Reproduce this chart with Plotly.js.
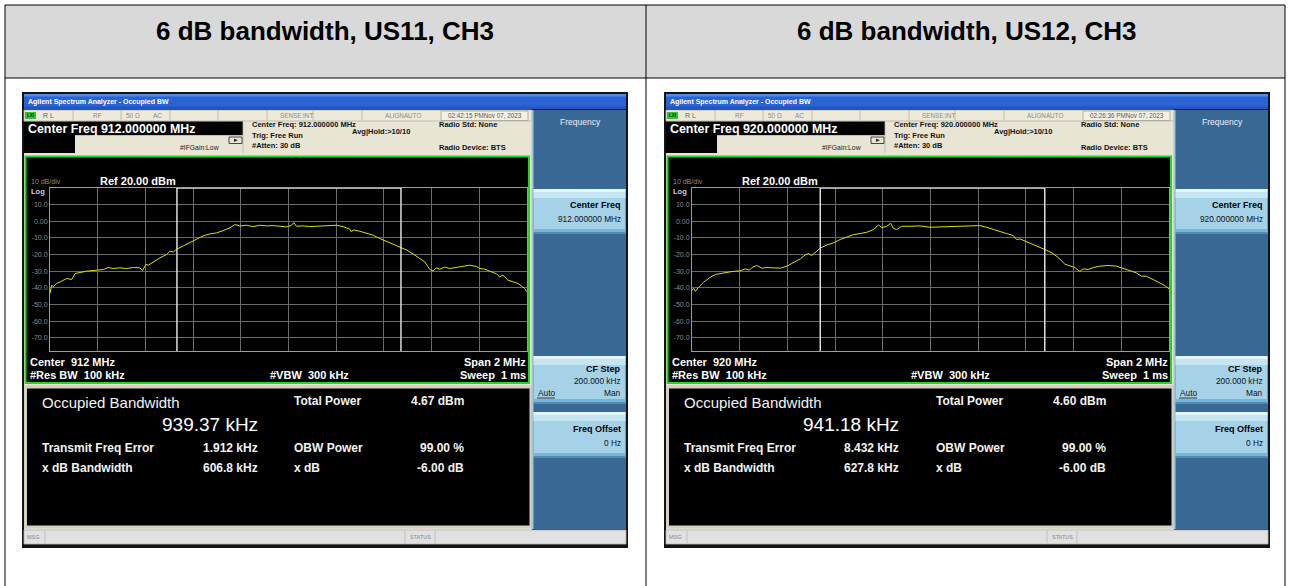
<!DOCTYPE html>
<html><head><meta charset="utf-8">
<script src="https://cdn.plot.ly/plotly-3.0.1.min.js"></script>
<style>html,body{margin:0;padding:0;background:#fff;}#chart{width:1290px;height:586px;}</style>
</head><body><div id="chart"></div>
<script>
// ---------------- data ----------------
const panelTitles = ['6 dB bandwidth, US11, CH3', '6 dB bandwidth, US12, CH3'];
const centerFreqMHz = [912, 920];
const spanMHz = [2, 2];
const refLevelDBm = 20;
const obwKHz = [939.37, 941.18];
const totalPowerDBm = [4.67, 4.60];
const freqErrorKHz = [1.912, 8.432];
const xdbBandwidthKHz = [606.8, 627.8];
const timestamps = ['02:42:15 PMNov 07, 2023', '02:26:36 PMNov 07, 2023'];
const yTickVals = [10, 0, -10, -20, -30, -40, -50, -60, -70];
const yTickText = ['10.0', '0.00', '-10.0', '-20.0', '-30.0', '-40.0', '-50.0', '-60.0', '-70.0'];

const freqUS11 = [911.000, 911.007, 911.014, 911.028, 911.049, 911.070, 911.091, 911.105, 911.126, 911.154,
  911.196, 911.223, 911.244, 911.265, 911.293, 911.321, 911.349, 911.377, 911.388, 911.402,
  911.412, 911.433, 911.461, 911.489, 911.503, 911.517, 911.531, 911.559, 911.587, 911.615,
  911.642, 911.670, 911.698, 911.726, 911.754, 911.775, 911.796, 911.824, 911.852, 911.880,
  911.908, 911.936, 911.964, 911.992, 912.013, 912.022, 912.034, 912.061, 912.089, 912.117,
  912.145, 912.173, 912.201, 912.229, 912.257, 912.264, 912.271, 912.299, 912.327, 912.355,
  912.383, 912.411, 912.439, 912.466, 912.494, 912.522, 912.550, 912.571, 912.581, 912.592,
  912.606, 912.620, 912.634, 912.655, 912.676, 912.704, 912.732, 912.760, 912.788, 912.802,
  912.823, 912.844, 912.872, 912.885, 912.899, 912.920, 912.941, 912.962, 912.976, 912.990, 913.000];
const levelUS11 = [-43.4, -38.4, -39.4, -37.4, -36.0, -34.4, -35.0, -31.4, -30.8, -30.0,
  -29.4, -29.0, -27.8, -28.4, -28.0, -28.4, -27.8, -28.0, -29.6, -26.0,
  -26.4, -24.4, -22.0, -20.0, -18.0, -18.4, -16.8, -14.8, -12.8, -10.8,
  -8.8, -7.6, -7.0, -5.6, -4.0, -2.0, -2.8, -2.4, -3.2, -2.4,
  -2.8, -2.6, -2.8, -3.4, -2.4, -0.8, -3.0, -2.8, -3.2, -3.0,
  -2.8, -2.6, -2.4, -3.2, -4.8, -6.4, -5.2, -6.0, -7.2, -8.4,
  -10.4, -12.0, -13.6, -15.6, -17.2, -19.6, -22.4, -24.4, -26.4, -29.0,
  -29.8, -28.0, -28.8, -27.6, -28.4, -27.6, -26.8, -26.4, -27.2, -28.4,
  -28.8, -30.0, -31.6, -33.4, -32.4, -35.4, -36.4, -37.4, -38.8, -40.4, -42.4];

const freqUS12 = [919.000, 919.007, 919.014, 919.028, 919.049, 919.077, 919.098, 919.133, 919.167, 919.202,
  919.223, 919.241, 919.251, 919.272, 919.293, 919.314, 919.342, 919.370, 919.398, 919.426,
  919.454, 919.475, 919.488, 919.502, 919.516, 919.537, 919.565, 919.593, 919.621, 919.649,
  919.677, 919.705, 919.733, 919.761, 919.782, 919.796, 919.817, 919.833, 919.844, 919.858,
  919.879, 919.914, 919.956, 919.998, 920.040, 920.082, 920.124, 920.165, 920.207, 920.235,
  920.263, 920.291, 920.319, 920.347, 920.361, 920.375, 920.403, 920.431, 920.458, 920.486,
  920.514, 920.542, 920.563, 920.584, 920.605, 920.626, 920.640, 920.661, 920.682, 920.710,
  920.745, 920.780, 920.807, 920.835, 920.863, 920.884, 920.905, 920.933, 920.961, 920.982, 921.000];
const levelUS12 = [-41.6, -40.2, -42.2, -39.6, -36.6, -33.6, -32.0, -31.0, -30.2, -29.8,
  -28.6, -29.4, -27.8, -26.6, -28.2, -27.8, -28.2, -28.2, -27.0, -25.0,
  -22.6, -20.2, -19.4, -20.6, -18.6, -16.2, -14.2, -13.0, -11.0, -9.4,
  -8.0, -7.4, -6.6, -5.0, -2.2, -3.8, -3.0, -1.2, -4.2, -5.0,
  -3.0, -3.0, -2.8, -3.6, -3.4, -3.0, -3.2, -3.0, -2.6, -3.6,
  -5.0, -6.2, -7.4, -8.6, -11.0, -10.6, -12.2, -13.8, -15.8, -17.4,
  -19.4, -22.6, -25.8, -27.0, -27.8, -30.2, -28.6, -29.0, -27.8, -27.0,
  -26.6, -27.0, -28.2, -29.4, -31.0, -33.0, -33.0, -35.0, -37.0, -38.6, -40.6];

const traceFreqs = [freqUS11, freqUS12];
const traceLevels = [levelUS11, levelUS12];

// ---------------- drawing helpers ----------------
const W = 1290, H = 586;
const FONT = 'Liberation Sans, Arial, sans-serif';
const shapes = [], annotations = [];
const px = x => x / W, py = y => 1 - y / H;
const NB = 'rgba(0,0,0,0)';
function rect(x0, y0, x1, y1, fill, lc, lw) {
  shapes.push({type: 'rect', xref: 'paper', yref: 'paper', x0: px(x0), x1: px(x1), y0: py(y1), y1: py(y0),
    fillcolor: fill || NB, line: {color: lc || NB, width: lw || 0}, layer: 'below'});
}
function seg(x0, y0, x1, y1, c, w, layer) {
  shapes.push({type: 'line', xref: 'paper', yref: 'paper', x0: px(x0), x1: px(x1), y0: py(y0), y1: py(y1),
    line: {color: c, width: w || 1}, layer: layer || 'below'});
}
function txt(x, y, s, size, color, anchor, bold) {
  annotations.push({xref: 'paper', yref: 'paper', x: px(x), y: py(y), text: bold ? '<b>' + s + '</b>' : s,
    showarrow: false, xanchor: anchor || 'left', yanchor: 'middle', borderpad: 0,
    font: {size: size, color: color, family: FONT}});
}
const sp = '\u00a0';
function button(ox, y0, y1) {
  rect(533.5 + ox, y0, 625.5 + ox, y1, '#a6d2e8');
  rect(533.5 + ox, y0, 625.5 + ox, y0 + 3, '#e4f4fb');
  rect(533.5 + ox, y0 + 3, 625.5 + ox, y0 + 9, '#c6e5f3');
  rect(533.5 + ox, y1 - 5, 625.5 + ox, y1 - 2, '#79b6d6');
  rect(533.5 + ox, y1 - 2, 625.5 + ox, y1, '#4d8db5');
}

// ---------------- table ----------------
rect(5, 5, 1285, 78, '#d9d9d9');
seg(5, 5, 1285, 5, '#000', 1);
seg(5, 78, 1285, 78, '#000', 1);
seg(5, 5, 5, 586, '#000', 1);
seg(646, 5, 646, 586, '#000', 1);
seg(1285, 5, 1285, 586, '#000', 1);

// ---------------- analyser panels ----------------
function panel(i) {
  const ox = i * 642;
  const X = v => v + ox;
  const c = centerFreqMHz[i];
  const cf6 = c.toFixed(6);

  txt(X(325), 31, panelTitles[i], 26, '#000', 'center', true);

  rect(X(22), 92, X(628), 548, '#141414');
  // title bar
  rect(X(24), 94, X(626), 109, '#2a63d3');
  rect(X(24), 94, X(626), 96.5, '#4f8de9');
  rect(X(24), 106.5, X(626), 109, '#2257c2');
  txt(X(27), 101.8, 'Agilent Spectrum Analyzer - Occupied BW', 7, '#ffffff', 'left', true);

  // beige body
  rect(X(24), 110, X(532), 530, '#e8e5d4');
  // status row
  rect(X(24), 110, X(532), 121, '#edeadb', '#b7b3a1', 0.8);
  [73, 121, 170, 218, 267, 313, 362].forEach(s => seg(X(s), 110.5, X(s), 120.5, '#b7b3a1', 0.8));
  rect(X(441), 111, X(528), 120.5, '#f3f1e7', '#a5a190', 0.8);
  rect(X(25), 112, X(36), 119, '#37c238');
  txt(X(30.5), 115.6, 'LXI', 4.5, '#063806', 'center', true);
  txt(X(42), 115.6, 'R L', 7, '#666666', 'left');
  txt(X(97.5), 115.6, 'RF', 6.5, '#8a8a8a', 'center');
  txt(X(133), 115.6, '50 Ω', 6.5, '#8a8a8a', 'center');
  txt(X(157.5), 115.6, 'AC', 6.5, '#8a8a8a', 'center');
  txt(X(296), 115.6, 'SENSE:INT', 6.3, '#8a8a8a', 'center');
  txt(X(403), 115.6, 'ALIGNAUTO', 6.3, '#8a8a8a', 'center');
  txt(X(484.5), 115.6, timestamps[i], 6.3, '#555555', 'center');

  // center freq bar
  rect(X(24), 121.5, X(243), 135, '#000000');
  txt(X(27), 128.5, 'Center Freq ' + cf6 + ' MHz', 12.4, '#ffffff', 'left', true);
  rect(X(24), 135, X(75), 153, '#000000');
  seg(X(75), 135.5, X(243), 135.5, '#bdb9a7', 0.8);
  seg(X(243), 121.5, X(243), 153, '#bdb9a7', 0.8);
  txt(X(179), 147.6, '#IFGain:Low', 6.8, '#222222', 'left');
  rect(X(229), 137, X(242), 143.5, NB, '#333333', 0.9);
  shapes.push({type: 'path', xref: 'paper', yref: 'paper', layer: 'below',
    path: 'M' + px(X(234)) + ',' + py(138.5) + ' L' + px(X(238)) + ',' + py(140.3) + ' L' + px(X(234)) + ',' + py(142) + ' Z',
    fillcolor: '#333333', line: {width: 0}});

  txt(X(250.5), 125, 'Center Freq: ' + cf6 + ' MHz', 7.5, '#111111', 'left', true);
  txt(X(250.5), 135.5, 'Trig: Free Run', 7.5, '#111111', 'left', true);
  txt(X(250.5), 145.8, '#Atten: 30 dB', 7.5, '#111111', 'left', true);
  txt(X(351), 131.5, 'Avg|Hold:&gt;10/10', 7.5, '#111111', 'left', true);
  txt(X(438), 124.5, 'Radio Std: None', 7.5, '#111111', 'left', true);
  txt(X(438), 147, 'Radio Device: BTS', 7.5, '#111111', 'left', true);

  // green trace window
  rect(X(25.5), 156.5, X(529), 383, '#000000', '#22d622', 2);
  txt(X(30), 181.5, '10 dB/div', 7, '#8c8c8c', 'left');
  txt(X(30), 191.5, 'Log', 7.5, '#cfcfcf', 'left', true);
  txt(X(99), 181, 'Ref ' + refLevelDBm.toFixed(2) + ' dBm', 11, '#ffffff', 'left', true);
  txt(X(29), 362, 'Center' + sp + sp + c + ' MHz', 11, '#ffffff', 'left', true);
  txt(X(29), 374.5, '#Res BW' + sp + sp + '100 kHz', 11, '#ffffff', 'left', true);
  txt(X(309), 374.5, '#VBW' + sp + sp + '300 kHz', 11, '#ffffff', 'center', true);
  txt(X(527), 362, 'Span ' + spanMHz[i] + ' MHz', 11, '#ffffff', 'right', true);
  txt(X(527), 374.5, 'Sweep' + sp + sp + '1 ms', 11, '#ffffff', 'right', true);

  // result window
  rect(X(24), 385, X(532), 528.5, '#d5d1c1');
  rect(X(27), 388.5, X(529.5), 525.5, '#000000');
  txt(X(40.5), 402, 'Occupied Bandwidth', 15, '#f2f2f2', 'left');
  txt(X(258.5), 424.5, obwKHz[i].toFixed(2) + ' kHz', 19, '#ffffff', 'right');
  txt(X(293), 400.5, 'Total Power', 12, '#f2f2f2', 'left', true);
  txt(X(465), 400.5, totalPowerDBm[i].toFixed(2) + ' dBm', 12, '#f2f2f2', 'right', true);
  txt(X(41), 448, 'Transmit Freq Error', 12, '#f2f2f2', 'left', true);
  txt(X(258.5), 448, freqErrorKHz[i].toFixed(3) + ' kHz', 12, '#f2f2f2', 'right', true);
  txt(X(293), 448, 'OBW Power', 12, '#f2f2f2', 'left', true);
  txt(X(465), 448, '99.00 %', 12, '#f2f2f2', 'right', true);
  txt(X(41), 468, 'x dB Bandwidth', 12, '#f2f2f2', 'left', true);
  txt(X(258.5), 468, xdbBandwidthKHz[i].toFixed(1) + ' kHz', 12, '#f2f2f2', 'right', true);
  txt(X(293), 468, 'x dB', 12, '#f2f2f2', 'left', true);
  txt(X(465), 468, '-6.00 dB', 12, '#f2f2f2', 'right', true);

  // softkey column
  rect(X(532), 110, X(626), 529, '#3a6894');
  seg(X(532.5), 110, X(532.5), 529, '#9cc6e0', 2);
  txt(X(580), 122, 'Frequency', 8.5, '#e6eefa', 'center');
  button(ox, 189, 234);
  txt(X(622), 205, 'Center Freq', 9, '#000000', 'right', true);
  txt(X(622), 219, cf6 + ' MHz', 8.3, '#111111', 'right');
  button(ox, 356, 404);
  txt(X(622), 369, 'CF Step', 9, '#000000', 'right', true);
  txt(X(622), 381, '200.000 kHz', 8.3, '#111111', 'right');
  txt(X(537), 393, 'Auto', 8.3, '#111111', 'left');
  seg(X(537), 398, X(555), 398, '#111111', 0.8);
  txt(X(622), 393, 'Man', 8.3, '#111111', 'right');
  button(ox, 412, 458);
  txt(X(622), 429, 'Freq Offset', 9, '#000000', 'right', true);
  txt(X(622), 443, '0 Hz', 8.3, '#111111', 'right');

  // status bar
  rect(X(24), 530, X(626), 544, '#e1e1e1', '#b9b9b9', 0.8);
  seg(X(45), 530.5, X(45), 543.5, '#b9b9b9', 0.8);
  seg(X(405), 530.5, X(405), 543.5, '#b9b9b9', 0.8);
  seg(X(435), 530.5, X(435), 543.5, '#b9b9b9', 0.8);
  txt(X(26), 537, 'MSG', 5.5, '#888888', 'left');
  txt(X(420), 537, 'STATUS', 5.5, '#888888', 'center');
}
panel(0);
panel(1);

// ---------------- spectrum axes & traces ----------------
const data = [];
const layout = {width: W, height: H, margin: {l: 0, r: 0, t: 0, b: 0}, paper_bgcolor: '#ffffff',
  plot_bgcolor: '#000000', showlegend: false, hovermode: false, shapes: shapes, annotations: annotations};

[0, 1].forEach(i => {
  const ox = i * 642;
  const c = centerFreqMHz[i], s = spanMHz[i];
  const xs = i === 0 ? '' : '2';
  const gridVals = [];
  for (let k = 1; k < 10; k++) gridVals.push(c - s / 2 + k * s / 10);
  layout['xaxis' + xs] = {domain: [px(50 + ox), px(527 + ox)], range: [c - s / 2, c + s / 2], anchor: 'y' + xs,
    tickvals: gridVals, showticklabels: false, ticks: '', showgrid: true, gridcolor: '#6a6a6a', gridwidth: 1,
    zeroline: false, showline: true, mirror: true, linecolor: '#9c9c9c', linewidth: 1, fixedrange: true};
  layout['yaxis' + xs] = {domain: [py(351), py(188)], range: [-78, refLevelDBm], anchor: 'x' + xs,
    tickvals: yTickVals, ticktext: yTickText, ticks: '', showgrid: true, gridcolor: '#6a6a6a', gridwidth: 1,
    zeroline: false, showline: true, mirror: true, linecolor: '#9c9c9c', linewidth: 1, fixedrange: true,
    tickfont: {size: 7, color: '#8c8c8c', family: FONT}};
  data.push({type: 'scatter', mode: 'lines', x: traceFreqs[i], y: traceLevels[i], xaxis: 'x' + xs, yaxis: 'y' + xs,
    line: {color: '#dede00', width: 1}, hoverinfo: 'skip'});
  // OBW markers from measured OBW and frequency error
  const mid = c + freqErrorKHz[i] / 1000;
  const lo = mid - obwKHz[i] / 2000, hi = mid + obwKHz[i] / 2000;
  [lo, hi].forEach(f => shapes.push({type: 'line', xref: 'x' + xs, yref: 'y' + xs, x0: f, x1: f, y0: -78, y1: refLevelDBm,
    line: {color: '#dedede', width: 1.5}, layer: 'above'}));
  shapes.push({type: 'line', xref: 'x' + xs, yref: 'y' + xs, x0: lo, x1: hi, y0: refLevelDBm, y1: refLevelDBm,
    line: {color: '#e6e6e6', width: 1.5}, layer: 'above'});
});

Plotly.newPlot('chart', data, layout, {staticPlot: true, displayModeBar: false});
</script>
</body></html>
